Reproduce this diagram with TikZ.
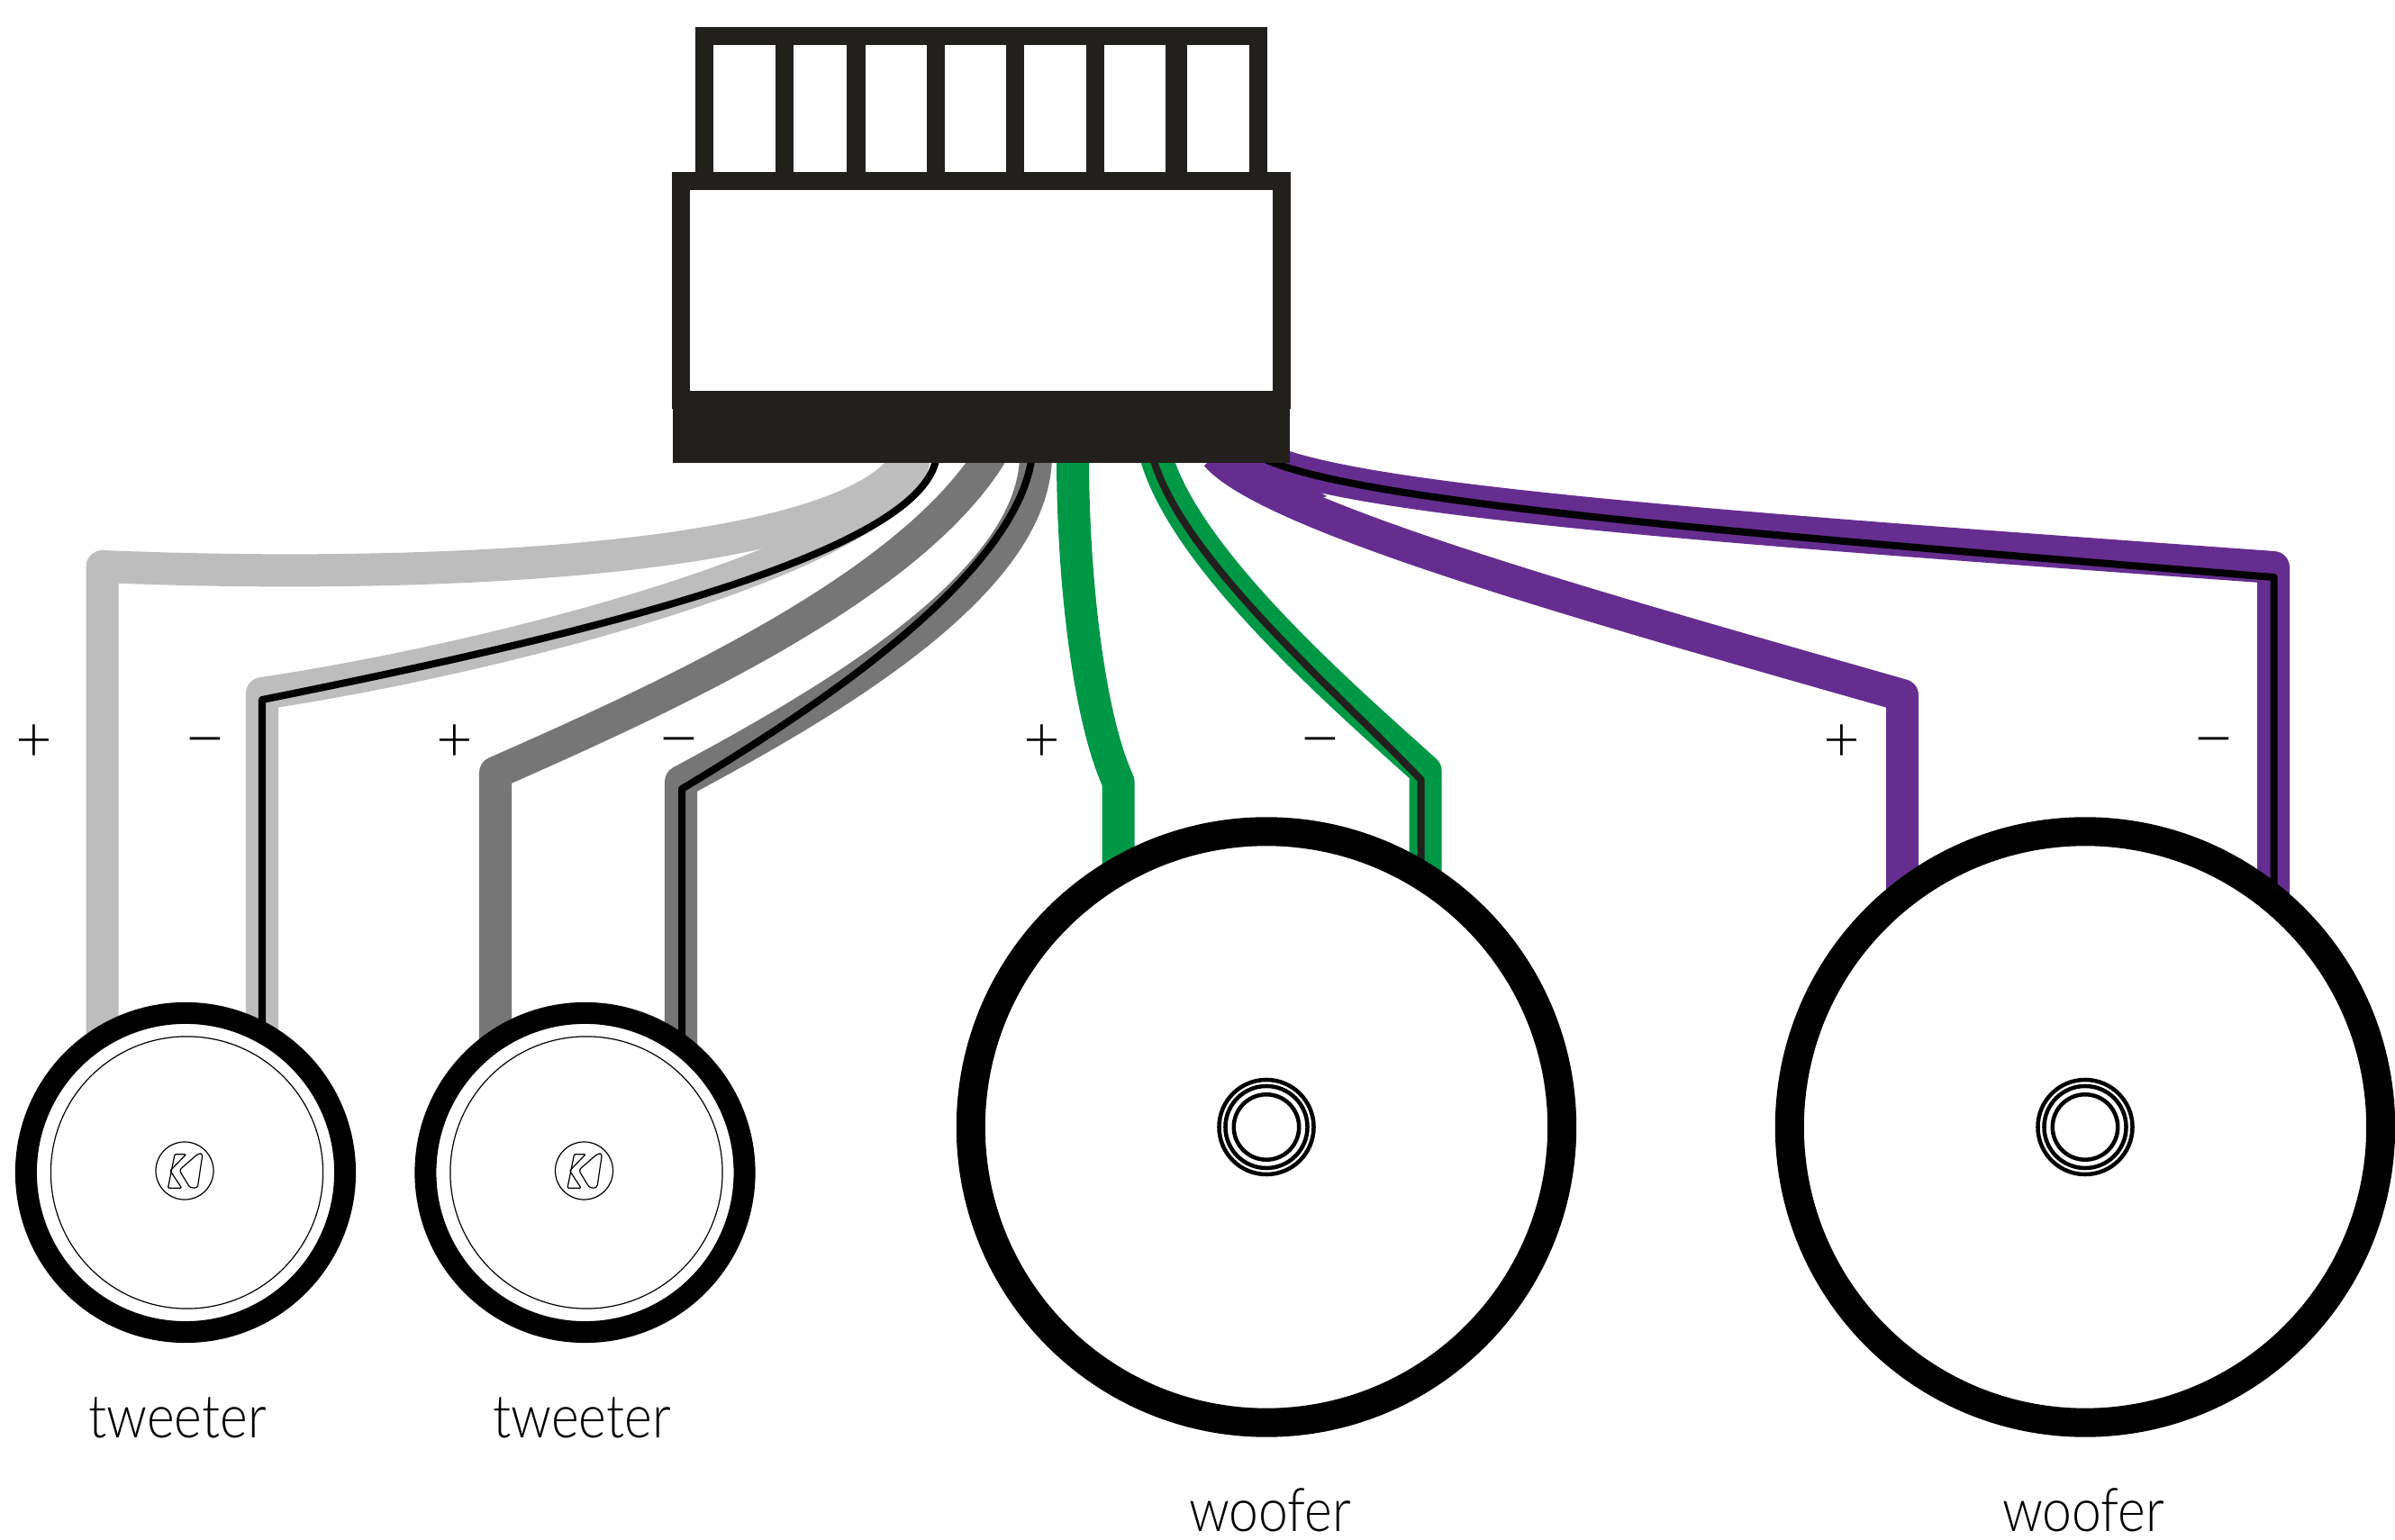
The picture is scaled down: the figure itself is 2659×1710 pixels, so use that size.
\documentclass[tikz,border=0pt]{standalone}
\usepackage{fontspec}
\usetikzlibrary{backgrounds}
\newfontfamily\lightfont[FakeStretch=0.88]{Lato Light}
\newfontfamily\signfont{Lato Light}
\newfontfamily\minusfont{Lato Light}
\definecolor{lgray}{HTML}{BDBDBD}
\definecolor{dgray}{HTML}{767676}
\definecolor{wgreen}{HTML}{009846}
\definecolor{wpurple}{HTML}{662D91}
\definecolor{plugc}{HTML}{22201D}
\tikzset{
  wire/.style={line width=0.36cm,line cap=butt,line join=round},
  core/.style={line width=0.08cm,line cap=butt,line join=round,black},
  ring/.style={circle,draw=black,fill=white,inner sep=0pt,outer sep=0pt},
  tw/.style={ring,line width=0.24cm,minimum size=3.54cm},
  wf/.style={ring,line width=0.32cm,minimum size=6.56cm},
  thin ring/.style={circle,draw=black,inner sep=0pt,outer sep=0pt,line width=0.012cm},
  hub/.style={circle,draw=black,inner sep=0pt,outer sep=0pt,line width=0.045cm},
  caption/.style={inner sep=0pt,anchor=base,font=\lightfont\fontsize{19}{21}\selectfont},
  plus sign/.style={inner sep=0pt,font=\signfont\fontsize{20}{21}\selectfont},
  minus sign/.style={inner sep=0pt,font=\minusfont\fontsize{23}{24}\selectfont},
  logoline/.style={black,line width=0.012cm,rounded corners=0.012cm,line join=round},
}
\newcommand{\kelogo}[1]{%
  \begin{scope}[shift={(#1)}]
    \draw[logoline] (-11,-18.3) -- (1.7,-18.3) -- (-16,0) -- (-3.3,19.3) -- (-18.5,19.3) -- cycle;
    \draw[logoline,rounded corners=0.03cm] (15,-19) -- (20,-19) -- (14.3,19) -- (6,19) -- (-6,-0.7) -- cycle;
  \end{scope}}
\begin{document}
\begin{tikzpicture}[x=0.01cm,y=-0.01cm]
\useasboundingbox (0,0) rectangle (2659,1710);
% speakers
\node[tw] (tw1) at (206,1302) {};
\node[tw] (tw2) at (649.5,1302) {};
\node[wf] (wf1) at (1406,1251.5) {};
\node[wf] (wf2) at (2315,1251.5) {};
\node[thin ring,minimum size=3.02cm] (tw1i) at (207.5,1302) {};
\node[thin ring,minimum size=3.02cm] (tw2i) at (651,1302) {};
\node[thin ring,minimum size=0.64cm] (lg1) at (205,1300) {};
\node[thin ring,minimum size=0.64cm] (lg2) at (648.5,1300) {};
\kelogo{lg1}
\kelogo{lg2}
\foreach \w in {wf1,wf2}{
  \node[hub,minimum size=1.05cm] (\w a) at (\w) {};
  \node[hub,minimum size=0.91cm] (\w b) at (\w) {};
  \node[hub,minimum size=0.724cm] (\w c) at (\w) {};
}
% connector
\foreach \a/\b in {772.4/792.3,861.2/881.1,940.3/960.7,1029/1049,1117/1137,1206/1226,1294/1318,1387/1407}
  \fill[plugc] (\a,30.4) rectangle (\b,200);
\fill[plugc] (772.4,30.4) rectangle (1407,50.4);
\node[draw=plugc,fill=white,line width=0.2cm,minimum width=6.67cm,minimum height=2.426cm,inner sep=0pt,outer sep=0pt] (body) at (1089.5,322.3) {};
\node[fill=plugc,minimum width=6.84cm,minimum height=0.8cm,inner sep=0pt,outer sep=0pt] (plug) at (1089.6,473.6) {};
% wire ends under the plug
\coordinate (w1a) at (1010,505);
\coordinate (w2a) at (1015,505);
\coordinate (k2a) at (1040,505);
\coordinate (w3a) at (1100,505);
\coordinate (w4a) at (1150,505);
\coordinate (k4a) at (1146,505);
\coordinate (w5a) at (1191,505);
\coordinate (w6a) at (1283,505);
\coordinate (k6a) at (1279,505);
\coordinate (w7a) at (1350,505);
\coordinate (w8a) at (1395,505);
\coordinate (notch) at (1473,551);
\coordinate (web) at (1425,570);
% bends
\coordinate (w1b) at (113.7,629);
\coordinate (w2b) at (291,770);
\coordinate (k2b) at (291,777);
\coordinate (w3b) at (550,858);
\coordinate (w4b) at (756,868);
\coordinate (k4b) at (757,876);
\coordinate (w5b) at (1241.6,868);
\coordinate (w6b) at (1582.6,856);
\coordinate (k6b) at (1577.7,866);
\coordinate (w7b) at (2112,772);
\coordinate (w8b) at (2524,630);
\coordinate (k8b) at (2524.7,641);
\begin{scope}[on background layer]
  \fill[white] (0,0) rectangle (2659,1710);
  \draw[wire,lgray] (w1a) .. controls (960,620) and (500,645) .. (w1b) -- (w1b |- tw1);
  \draw[wire,lgray] (w2a) .. controls (1015,605) and (590,725) .. (w2b) -- (w2b |- tw1);
  \draw[core] (k2a) .. controls (1030,620) and (600,715) .. (k2b) -- (k2b |- tw1);
  \draw[wire,dgray] (w3a) .. controls (1010,650) and (750,770) .. (w3b) -- (w3b |- tw2);
  \draw[wire,dgray] (w4a) .. controls (1150,650) and (910,785) .. (w4b) -- (w4b |- tw2);
  \draw[core] (k4a) .. controls (1130,640) and (900,790) .. (k4b) -- (k4b |- tw2);
  \draw[wire,wgreen] (w5a) .. controls (1191,650) and (1210,800) .. (w5b) -- (w5b |- wf1);
  \draw[wire,wgreen] (w6a) .. controls (1315,620) and (1487,770) .. (w6b) -- (w6b |- wf1);
  \draw[core,plugc] (k6a) .. controls (1310,620) and (1487,770) .. (k6b) -- (k6b |- wf1);
  \fill[wpurple] (w7a) -- (w8a) -- (notch) -- (web) -- cycle;
  \draw[wire,wpurple] (w7a) .. controls (1410,575) and (1790,680) .. (w7b) -- (w7b |- wf2);
  \draw[wire,wpurple] (w8a) .. controls (1480,555) and (1900,585) .. (w8b) -- (w8b |- wf2);
  \draw[core] (w8a) .. controls (1480,555) and (1900,590) .. (k8b) -- (k8b |- wf2);
\end{scope}
% labels
\node[caption] (c1) at (197,1597) {tweeter};
\node[caption] (c2) at (646,1597) {tweeter};
\node[caption] (c3) at (1410,1701) {woofer};
\node[caption] (c4) at (2313,1701) {woofer};
\node[plus sign] (p1) at (38,825) {+};
\node[minus sign] (m1) at (228,833) {−};
\node[plus sign] (p2) at (505,825) {+};
\node[minus sign] (m2) at (754,833) {−};
\node[plus sign] (p3) at (1157,825) {+};
\node[minus sign] (m3) at (1466,833) {−};
\node[plus sign] (p4) at (2045,825) {+};
\node[minus sign] (m4) at (2458,833) {−};
\end{tikzpicture}
\end{document}
